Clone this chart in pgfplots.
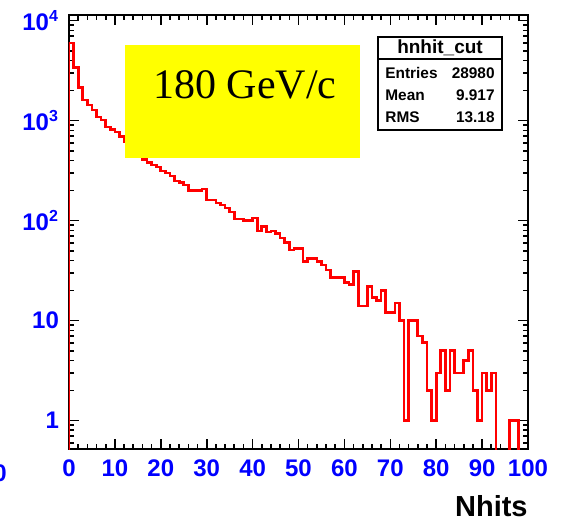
\documentclass[border=0pt]{standalone}
\usepackage{pgfplots}
\pgfplotsset{compat=1.18}
\usepackage{fontspec}
\setmainfont{Liberation Sans}
\newfontfamily\timesfont{Liberation Serif}
\definecolor{rootred}{RGB}{255,0,0}
\definecolor{rootblue}{RGB}{0,0,255}
\definecolor{rootyellow}{RGB}{255,255,0}

\begin{document}
\begin{tikzpicture}
\path[use as bounding box] (0pt,0pt) rectangle (281.5pt,-260pt);
\begin{axis}[
  at={(34.5pt,-224.5pt)}, anchor=south west,
  scale only axis, width=229.5pt, height=217pt,
  ymode=log,
  xmin=0, xmax=100, ymin=0.52, ymax=11400,
  xtick={0,10,...,100},
  xticklabels={0,10,20,30,40,50,60,70,80,90,100},
  minor x tick num=4,
  ytick={1,10,100,1000,10000},
  yticklabels={1,10,10\textsuperscript{2},10\textsuperscript{3},10\textsuperscript{4}},
  minor ytick={0.6,0.7,0.8,0.9,2,3,4,5,6,7,8,9,20,30,40,50,60,70,80,90,200,300,400,500,600,700,800,900,2000,3000,4000,5000,6000,7000,8000,9000},
  tick align=inside,
  major tick length=5pt, minor tick length=2.5pt,
  every tick/.style={black, line width=0.8pt},
  axis line style={line width=1.4pt},
  ticklabel style={text=rootblue, font=\bfseries\fontsize{12}{14}\selectfont},
  xticklabel style={yshift=-2pt},
  yticklabel style={xshift=-1.5pt},
  clip=true,
]
\addplot[const plot mark left, rootred, line width=1.35pt] coordinates {
(0,0.1) (0,6000) (1,3400) (2,2130) (3,1610) (4,1430) (5,1280) (6,1090) (7,1015) (8,865) (9,810)
(10,770) (11,690) (12,620) (13,560) (14,500) (15,440) (16,410) (17,380) (18,360) (19,345)
(20,313) (21,299) (22,280) (23,250) (24,239) (25,228) (26,199) (27,199) (28,199) (29,208)
(30,161) (31,161) (32,150) (33,143) (34,134) (35,122) (36,104) (37,104) (38,101) (39,101)
(40,106) (41,79) (42,87) (43,77) (44,79) (45,75) (46,67) (47,60) (48,51) (49,53)
(50,53) (51,39) (52,42) (53,42) (54,39) (55,36) (56,32) (57,27) (58,27) (59,27)
(60,24) (61,23) (62,31) (63,14) (64,14) (65,22) (66,17) (67,16) (68,20) (69,12)
(70,12) (71,15) (72,10) (73,1) (74,10) (75,10) (76,7) (77,6) (78,2) (79,1)
(80,3) (81,5) (82,2) (83,5) (84,3) (85,3) (86,4) (87,5) (88,2) (89,1)
(90,3) (91,2) (92,3) (93,0.1) (94,0.1) (95,0.1) (96,1) (97,1) (98,0.1) (99,0.1)
(100,0.1)
};
\end{axis}
% yellow label box
\fill[rootyellow] (62.5pt,-22.5pt) rectangle (180pt,-79pt);
\node[anchor=base west, inner sep=0pt, font=\timesfont\fontsize{21}{24}\selectfont] at (76.5pt,-49pt) {180 GeV/c};
% stats box
\draw[line width=1pt, fill=white] (189pt,-18.5pt) rectangle (251pt,-65pt);
\draw[line width=1pt] (189pt,-29.5pt) -- (251pt,-29.5pt);
\node[inner sep=0pt, font=\bfseries\fontsize{9.5}{11}\selectfont] at (220pt,-24pt) {hnhit\_cut};
\begin{scope}[every node/.style={inner sep=0pt, font=\bfseries\fontsize{7.7}{9}\selectfont}]
\node[anchor=west] at (192.5pt,-36.5pt) {Entries};
\node[anchor=east] at (247.5pt,-36.5pt) {28980};
\node[anchor=west] at (192.5pt,-47.5pt) {Mean};
\node[anchor=east] at (247.5pt,-47.5pt) {9.917};
\node[anchor=west] at (192.5pt,-58.5pt) {RMS};
\node[anchor=east] at (247.5pt,-58.5pt) {13.18};
\end{scope}
% axis title
\node[anchor=north east, inner sep=0pt, font=\bfseries\fontsize{14.5}{16}\selectfont] at (264pt,-247.5pt) {Nhits};
% stray label cut at the left edge (as in the reference)
\node[anchor=east, inner sep=0pt, text=rootblue, font=\bfseries\fontsize{12}{14}\selectfont] at (3.5pt,-236.5pt) {0};
\end{tikzpicture}
\end{document}
